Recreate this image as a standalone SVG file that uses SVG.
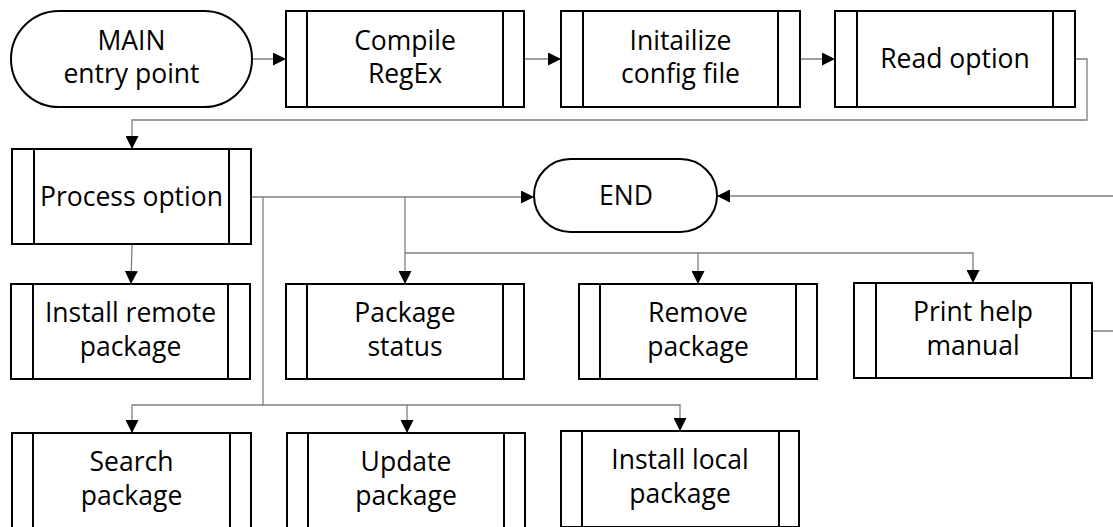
<svg xmlns="http://www.w3.org/2000/svg" width="1113" height="527" viewBox="0 0 1113 527">
<style>
.box{fill:#fff;stroke:#000;stroke-width:2}
.bar{stroke:#000;stroke-width:2}
.lbl{font-family:"Open Sans","Liberation Sans",sans-serif;font-size:26.5px;fill:#000;text-anchor:middle}
.con{fill:none;stroke:#7f7f7f;stroke-width:1.3}
</style>
<defs>
<marker id="arr" markerUnits="userSpaceOnUse" markerWidth="14" markerHeight="13" refX="13" refY="6.5" orient="auto">
<path d="M0,0 L13,6.5 L0,13 z" fill="#000"/>
</marker>
</defs>
<rect width="1113" height="527" fill="#fff"/>
<g id="connectors">
<path class="con" d="M252,59 H286" marker-end="url(#arr)"/>
<path class="con" d="M524,59 H561" marker-end="url(#arr)"/>
<path class="con" d="M800,59 H835" marker-end="url(#arr)"/>
<path class="con" d="M1075,59 H1087 V120 H132 V149" marker-end="url(#arr)"/>
<path class="con" d="M251,197 H534" marker-end="url(#arr)"/>
<path class="con" d="M132,244 L131,284" marker-end="url(#arr)"/>
<path class="con" d="M263,197 V405 H132 V433" marker-end="url(#arr)"/>
<path class="con" d="M263,405 H407 V433" marker-end="url(#arr)"/>
<path class="con" d="M407,405 H680 V431" marker-end="url(#arr)"/>
<path class="con" d="M405,197 V284" marker-end="url(#arr)"/>
<path class="con" d="M405,253 H698 V284" marker-end="url(#arr)"/>
<path class="con" d="M698,253 H973 V283" marker-end="url(#arr)"/>
<path class="con" d="M1092,331 H1130 V196 H717" marker-end="url(#arr)"/>
</g>
<g id="main">
<rect class="box" x="11" y="11" width="241" height="96" rx="48" ry="48"/>
<text class="lbl" x="131.5" y="50">MAIN</text>
<text class="lbl" x="131.5" y="83">entry point</text>
</g>
<g id="compile">
<rect class="box" x="286" y="11" width="238" height="96"/>
<line class="bar" x1="307" y1="11" x2="307" y2="107"/>
<line class="bar" x1="503" y1="11" x2="503" y2="107"/>
<text class="lbl" x="405" y="50">Compile</text>
<text class="lbl" x="405" y="83">RegEx</text>
</g>
<g id="init">
<rect class="box" x="561" y="11" width="239" height="96"/>
<line class="bar" x1="583" y1="11" x2="583" y2="107"/>
<line class="bar" x1="778" y1="11" x2="778" y2="107"/>
<text class="lbl" x="680.5" y="50">Initailize</text>
<text class="lbl" x="680.5" y="83">config file</text>
</g>
<g id="read">
<rect class="box" x="835" y="11" width="240" height="96"/>
<line class="bar" x1="857" y1="11" x2="857" y2="107"/>
<line class="bar" x1="1053" y1="11" x2="1053" y2="107"/>
<text class="lbl" x="955" y="68">Read option</text>
</g>
<g id="process">
<rect class="box" x="12" y="149" width="239" height="95"/>
<line class="bar" x1="34" y1="149" x2="34" y2="244"/>
<line class="bar" x1="229" y1="149" x2="229" y2="244"/>
<text class="lbl" x="131.5" y="206">Process option</text>
</g>
<g id="end">
<rect class="box" x="534" y="159" width="183" height="73" rx="36.5" ry="36.5"/>
<text class="lbl" x="626" y="205">END</text>
</g>
<g id="install-remote">
<rect class="box" x="11" y="284" width="239" height="95"/>
<line class="bar" x1="33" y1="284" x2="33" y2="379"/>
<line class="bar" x1="228" y1="284" x2="228" y2="379"/>
<text class="lbl" x="130.5" y="322">Install remote</text>
<text class="lbl" x="130.5" y="355.5">package</text>
</g>
<g id="package-status">
<rect class="box" x="286" y="284" width="238" height="95"/>
<line class="bar" x1="307" y1="284" x2="307" y2="379"/>
<line class="bar" x1="503" y1="284" x2="503" y2="379"/>
<text class="lbl" x="405" y="322">Package</text>
<text class="lbl" x="405" y="355.5">status</text>
</g>
<g id="remove">
<rect class="box" x="579" y="284" width="238" height="95"/>
<line class="bar" x1="600" y1="284" x2="600" y2="379"/>
<line class="bar" x1="796" y1="284" x2="796" y2="379"/>
<text class="lbl" x="698" y="322">Remove</text>
<text class="lbl" x="698" y="355.5">package</text>
</g>
<g id="print-help">
<rect class="box" x="854" y="283" width="238" height="95"/>
<line class="bar" x1="876" y1="283" x2="876" y2="378"/>
<line class="bar" x1="1071" y1="283" x2="1071" y2="378"/>
<text class="lbl" x="973" y="321">Print help</text>
<text class="lbl" x="973" y="354.5">manual</text>
</g>
<g id="search">
<rect class="box" x="12" y="433" width="239" height="96"/>
<line class="bar" x1="33" y1="433" x2="33" y2="529"/>
<line class="bar" x1="230" y1="433" x2="230" y2="529"/>
<text class="lbl" x="131.5" y="471">Search</text>
<text class="lbl" x="131.5" y="505">package</text>
</g>
<g id="update">
<rect class="box" x="287" y="433" width="238" height="96"/>
<line class="bar" x1="308" y1="433" x2="308" y2="529"/>
<line class="bar" x1="504" y1="433" x2="504" y2="529"/>
<text class="lbl" x="406" y="471">Update</text>
<text class="lbl" x="406" y="505">package</text>
</g>
<g id="install-local">
<rect class="box" x="561" y="431" width="238" height="96"/>
<line class="bar" x1="582" y1="431" x2="582" y2="527"/>
<line class="bar" x1="779" y1="431" x2="779" y2="527"/>
<text class="lbl" x="680" y="469">Install local</text>
<text class="lbl" x="680" y="503">package</text>
</g>
</svg>
